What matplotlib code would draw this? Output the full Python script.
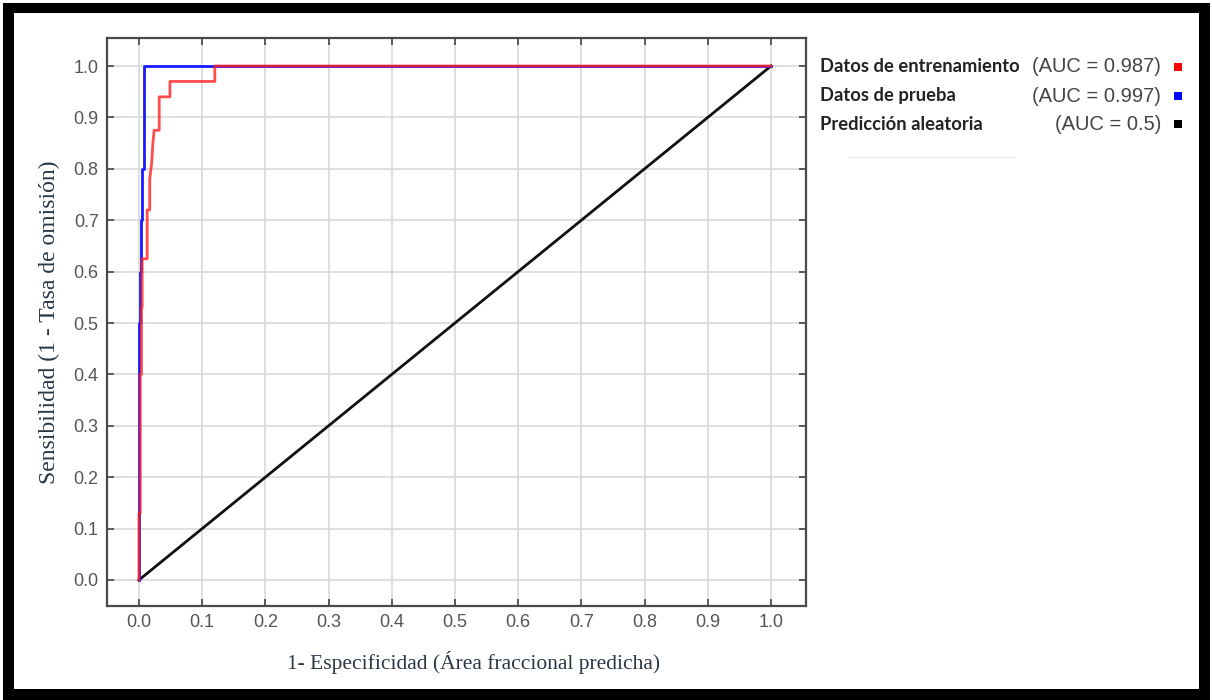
import numpy as np
import matplotlib.pyplot as plt
from matplotlib.patches import Rectangle

# ROC curve points
TRAIN_FPR = [
    0.0, 0.0, 0.002, 0.002, 0.004, 0.004, 0.005, 0.005,
    0.013, 0.013, 0.017, 0.017, 0.020, 0.022, 0.024,
    0.032, 0.032, 0.049, 0.049, 0.12, 0.12, 1.0,
]
TRAIN_TPR = [
    0.0, 0.13, 0.13, 0.40, 0.40, 0.53, 0.53, 0.625,
    0.625, 0.72, 0.72, 0.78, 0.81, 0.85, 0.875,
    0.875, 0.94, 0.94, 0.97, 0.97, 1.0, 1.0,
]

TEST_FPR = [
    0.0, 0.0, 0.002, 0.002, 0.003, 0.003, 0.005, 0.005,
    0.008, 0.008, 1.0,
]
TEST_TPR = [
    0.0, 0.5, 0.5, 0.6, 0.6, 0.7, 0.7, 0.8,
    0.8, 1.0, 1.0,
]

RANDOM_FPR = [0.0, 1.0]
RANDOM_TPR = [0.0, 1.0]

LEGEND_NAMES = [
    "Datos de entrenamiento",
    "Datos de prueba",
    "Predicción aleatoria",
]
LEGEND_AUC = [
    "(AUC = 0.987)",
    "(AUC = 0.997)",
    "(AUC = 0.5)",
]
LEGEND_COLORS = ["#ff0000", "#0000ff", "#000000"]

TICKS = np.round(np.arange(0, 1.01, 0.1), 1)

W, H = 1212, 700

fig = plt.figure(
    figsize=(W / 100, H / 100),
    dpi=100,
)

ax = fig.add_axes(
    [107 / W, 1 - 606 / H, 699 / W, 568 / H]
)

ax.plot(
    TEST_FPR,
    TEST_TPR,
    color="#1a1aff",
    linewidth=2,
    zorder=3,
)

ax.plot(
    TRAIN_FPR,
    TRAIN_TPR,
    color="#ff2020",
    linewidth=2,
    alpha=0.8,
    zorder=4,
)

ax.plot(
    RANDOM_FPR,
    RANDOM_TPR,
    color="#111111",
    linewidth=2,
    zorder=2,
)

ax.set_xlim(-0.0506, 1.0554)
ax.set_ylim(-0.0506, 1.0545)

tick_font = dict(
    family="Liberation Sans",
    fontsize=13,
    color="#555555",
)

ax.set_xticks(TICKS)
ax.set_yticks(TICKS)
ax.set_xticklabels(
    [f"{t:.1f}" for t in TICKS],
    **tick_font,
)
ax.set_yticklabels(
    [f"{t:.1f}" for t in TICKS],
    **tick_font,
)

ax.grid(
    True,
    color="#d9d9d9",
    linewidth=1.2,
    zorder=0,
)
ax.set_axisbelow(True)

ax.tick_params(
    direction="in",
    top=True,
    right=True,
    length=5,
    width=1.2,
    color="#444444",
    pad=6,
)

for spine in ax.spines.values():
    spine.set_color("#4a4a4a")
    spine.set_linewidth(1.6)

ax.set_xlabel(
    "1- Especificidad (Área fraccional predicha)",
    family="Liberation Serif",
    fontsize=15.5,
    color="#2b3645",
)
ax.xaxis.set_label_coords(0.525, -0.080)

ax.set_ylabel(
    "Sensibilidad (1 - Tasa de omisión)",
    family="Liberation Serif",
    fontsize=17,
    color="#2b3645",
    labelpad=10,
)

# legend drawn as text rows at the right of the plot
row_y = [67, 96, 124]
for name, auc, color, y in zip(
    LEGEND_NAMES, LEGEND_AUC, LEGEND_COLORS, row_y
):
    fig.text(
        820 / W,
        1 - y / H,
        name,
        family="Lato",
        fontweight="bold",
        fontsize=13.2,
        color="#222222",
        va="center",
        ha="left",
    )
    fig.text(
        1161 / W,
        1 - y / H,
        auc,
        family="Liberation Sans",
        fontsize=14.5,
        color="#444444",
        va="center",
        ha="right",
    )
    fig.patches.append(
        Rectangle(
            (1174 / W, 1 - (y + 4) / H),
            8 / W,
            8 / H,
            transform=fig.transFigure,
            facecolor=color,
            edgecolor="none",
        )
    )

fig.add_artist(
    plt.Line2D(
        [848 / W, 1015 / W],
        [1 - 157 / H, 1 - 157 / H],
        color="#eeeeee",
        linewidth=1,
    )
)

# thick black frame round the whole picture
for x0, y0, w, h in [
    (3, 3, 11, 697),
    (3, 3, 1207, 10),
    (1199, 3, 11, 697),
    (3, 689, 1207, 11),
]:
    fig.patches.append(
        Rectangle(
            (x0 / W, 1 - (y0 + h) / H),
            w / W,
            h / H,
            transform=fig.transFigure,
            facecolor="black",
            edgecolor="none",
        )
    )

plt.savefig("out.png", dpi=100)
plt.close()
